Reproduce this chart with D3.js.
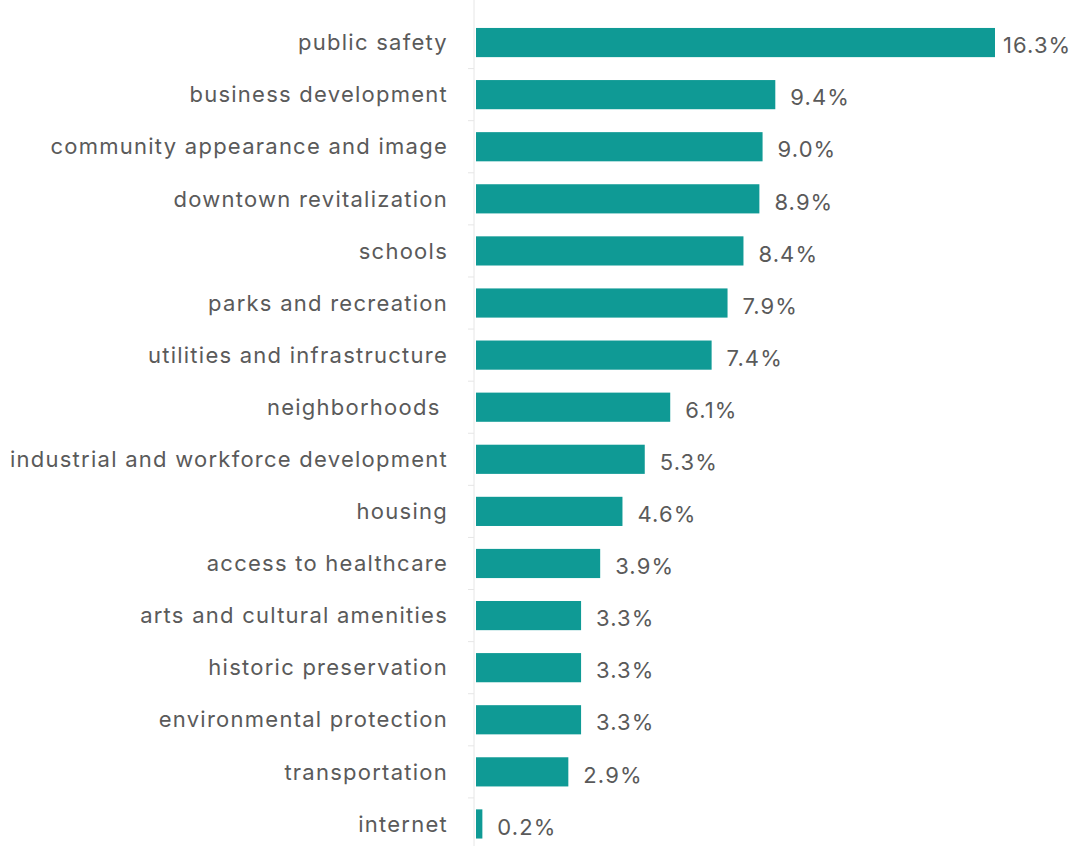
<!DOCTYPE html>
<html>
<head>
<meta charset="utf-8">
<script src="https://cdn.jsdelivr.net/npm/d3@7"></script>
<style>
  html, body { margin: 0; padding: 0; background: #fff; }
  svg { display: block; }
  text.cat { white-space: pre; }
</style>
</head>
<body>
<svg id="chart" width="1079" height="846"></svg>
<script>
// Share of responses by priority area
const categories = [
  "public safety",
  "business development",
  "community appearance and image",
  "downtown revitalization",
  "schools",
  "parks and recreation",
  "utilities and infrastructure",
  "neighborhoods ",
  "industrial and workforce development",
  "housing",
  "access to healthcare",
  "arts and cultural amenities",
  "historic preservation",
  "environmental protection",
  "transportation",
  "internet"
];
const values = [16.3, 9.4, 9.0, 8.9, 8.4, 7.9, 7.4, 6.1, 5.3, 4.6, 3.9, 3.3, 3.3, 3.3, 2.9, 0.2];
const valueLabels = ["16.3%", "9.4%", "9.0%", "8.9%", "8.4%", "7.9%", "7.4%", "6.1%", "5.3%", "4.6%", "3.9%", "3.3%", "3.3%", "3.3%", "2.9%", "0.2%"];

const data = categories.map((c, i) => ({ cat: c, val: values[i], label: valueLabels[i] }));

const svg = d3.select("#chart");
const x0 = 476;
const font = "Inter, 'Noto Sans', sans-serif";
const fontSize = 22;

const x = d3.scaleLinear().domain([0, 16.3]).range([x0, 995]);
const y = d3.scaleBand().domain(categories).range([16.5, 850]).paddingInner(0.44).paddingOuter(0.22);

// axis line with small ticks between bars
const axisX = 474;
svg.append("line")
  .attr("x1", axisX).attr("x2", axisX)
  .attr("y1", 0).attr("y2", 846)
  .attr("stroke", "#e6e6e6").attr("stroke-width", 1);

const step = y.step();
svg.selectAll("line.tick")
  .data(categories.slice(1))
  .join("line")
  .attr("class", "tick")
  .attr("x1", axisX - 6).attr("x2", axisX)
  .attr("y1", d => y(d) - (step - y.bandwidth()) / 2)
  .attr("y2", d => y(d) - (step - y.bandwidth()) / 2)
  .attr("stroke", "#e6e6e6");

svg.selectAll("rect.bar")
  .data(data)
  .join("rect")
  .attr("class", "bar")
  .attr("x", x(0))
  .attr("y", d => y(d.cat))
  .attr("width", d => x(d.val) - x(0))
  .attr("height", y.bandwidth())
  .attr("fill", "#0f9a95");

svg.selectAll("text.cat")
  .data(data)
  .join("text")
  .attr("class", "cat")
  .attr("x", 448)
  .attr("y", d => y(d.cat) + y.bandwidth() / 2)
  .attr("dy", "0.35em")
  .attr("text-anchor", "end")
  .attr("font-family", font)
  .attr("font-size", fontSize)
  .attr("letter-spacing", 1.25)
  .attr("fill", "#5a5a5a")
  .text(d => d.cat);

svg.selectAll("text.val")
  .data(data)
  .join("text")
  .attr("class", "val")
  .attr("x", d => x(d.val) + (d.val > 15 ? 8 : 15))
  .attr("y", d => y(d.cat) + y.bandwidth() / 2 + 3)
  .attr("dy", "0.35em")
  .attr("font-family", font)
  .attr("font-size", fontSize)
  .attr("letter-spacing", 1.1)
  .attr("fill", "#5a5a5a")
  .text(d => d.label);
</script>
</body>
</html>
